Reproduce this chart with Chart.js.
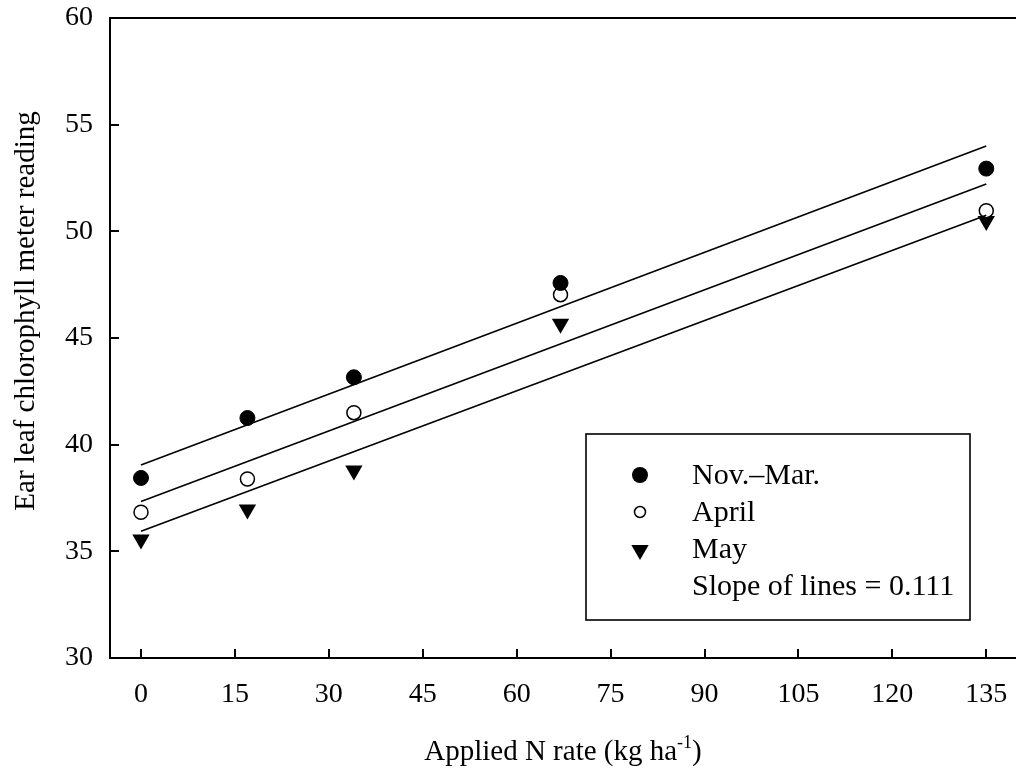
<!DOCTYPE html>
<html>
<head>
<meta charset="utf-8">
<script src="https://cdn.jsdelivr.net/npm/chart.js@4"></script>
<style>
  html, body { margin: 0; padding: 0; background: #fff; }
  canvas { display: block; }
</style>
</head>
<body>
<canvas id="c" width="1016" height="774"></canvas>
<script>
// ---- data ----
const nRates = [0, 17, 34, 67, 135];
const novMar = [38.44, 41.25, 43.16, 47.58, 52.94];
const april  = [36.83, 38.39, 41.50, 47.03, 50.97];
const may    = [35.56, 36.96, 38.79, 45.67, 50.49];

const fitX      = [0, 135];
const fitNovMar = [39.05, 54.0];
const fitApril  = [37.34, 52.22];
const fitMay    = [35.94, 50.75];

const xTicks = [0, 15, 30, 45, 60, 75, 90, 105, 120, 135];
const yTicks = [30, 35, 40, 45, 50, 55, 60];

const seriesNames = ['Nov.\u2013Mar.', 'April', 'May'];
const slopeNote = 'Slope of lines = 0.111';
const xTitle = 'Applied N rate (kg ha';
const xTitleSup = '-1';
const yTitle = 'Ear leaf chlorophyll meter reading';

const FONT = '"Liberation Serif", "Times New Roman", serif';

function pts(xs, ys) { return xs.map((x, i) => ({ x: x, y: ys[i] })); }

const lineDs = (ys) => ({
  data: pts(fitX, ys), showLine: true, pointRadius: 0, borderColor: '#000',
  borderWidth: 1.6, fill: false
});

const decor = {
  id: 'decor',
  afterDraw(chart) {
    const ctx = chart.ctx;
    const a = chart.chartArea;
    const xs = chart.scales.x, ys = chart.scales.y;
    const W = chart.width;
    ctx.save();
    ctx.strokeStyle = '#000';
    ctx.lineWidth = 2;
    ctx.lineCap = 'butt';
    // axes frame (left, bottom, top) running to the page edge
    ctx.beginPath();
    ctx.moveTo(a.left, a.top - 1); ctx.lineTo(a.left, a.bottom + 1);
    ctx.moveTo(a.left - 1, a.bottom); ctx.lineTo(W, a.bottom);
    ctx.moveTo(a.left - 1, a.top); ctx.lineTo(W, a.top);
    ctx.stroke();
    // inward tick marks
    ctx.beginPath();
    yTicks.forEach(v => {
      const p = Math.round(ys.getPixelForValue(v));
      ctx.moveTo(a.left, p); ctx.lineTo(a.left + 9, p);
    });
    xTicks.forEach(v => {
      const p = Math.round(xs.getPixelForValue(v));
      ctx.moveTo(p, a.bottom); ctx.lineTo(p, a.bottom - 9);
    });
    ctx.stroke();

    // legend box
    ctx.lineWidth = 1.6;
    ctx.strokeRect(586, 434, 384, 186);
    const mx = 640;
    ctx.fillStyle = '#000';
    ctx.beginPath(); ctx.arc(mx, 475, 8, 0, Math.PI * 2); ctx.fill();
    ctx.lineWidth = 1.5;
    ctx.beginPath(); ctx.arc(mx, 512, 5.5, 0, Math.PI * 2); ctx.stroke();
    const r = 10, cy = 550;
    ctx.beginPath();
    ctx.moveTo(mx, cy + r);
    ctx.lineTo(mx - r * Math.sqrt(3) / 2, cy - r / 2);
    ctx.lineTo(mx + r * Math.sqrt(3) / 2, cy - r / 2);
    ctx.closePath(); ctx.fill();

    ctx.font = '30px ' + FONT;
    ctx.textAlign = 'left';
    ctx.textBaseline = 'alphabetic';
    ctx.fillText(seriesNames[0], 692, 484);
    ctx.fillText(seriesNames[1], 692, 521);
    ctx.fillText(seriesNames[2], 692, 558);
    ctx.fillText(slopeNote, 692, 595);

    // x title with superscript
    ctx.font = '29px ' + FONT;
    const w1 = ctx.measureText(xTitle).width;
    ctx.font = '18px ' + FONT;
    const w2 = ctx.measureText(xTitleSup).width;
    ctx.font = '29px ' + FONT;
    const w3 = ctx.measureText(')').width;
    const total = w1 + w2 + w3;
    let sx = 563 - total / 2;
    const by = 760;
    ctx.fillText(xTitle, sx, by);
    ctx.font = '18px ' + FONT;
    ctx.fillText(xTitleSup, sx + w1, by - 12);
    ctx.font = '29px ' + FONT;
    ctx.fillText(')', sx + w1 + w2, by);

    // y title
    ctx.translate(34, 311);
    ctx.rotate(-Math.PI / 2);
    ctx.textAlign = 'center';
    ctx.fillText(yTitle, 0, 0);
    ctx.restore();
  }
};

new Chart(document.getElementById('c'), {
  type: 'scatter',
  data: {
    datasets: [
      lineDs(fitNovMar), lineDs(fitApril), lineDs(fitMay),
      { label: seriesNames[0], data: pts(nRates, novMar), pointStyle: 'circle', pointRadius: 7.5,
        backgroundColor: '#000', borderColor: '#000', borderWidth: 1 },
      { label: seriesNames[1], data: pts(nRates, april), pointStyle: 'circle', pointRadius: 7,
        backgroundColor: '#fff', borderColor: '#000', borderWidth: 1.5 },
      { label: seriesNames[2], data: pts(nRates, may), pointStyle: 'triangle', rotation: 180,
        pointRadius: 10, backgroundColor: '#000', borderColor: '#000', borderWidth: 0 }
    ]
  },
  options: {
    responsive: false,
    animation: false,
    events: [],
    layout: { padding: { top: 18, right: 0, left: 0, bottom: 0 } },
    plugins: { legend: { display: false }, tooltip: { enabled: false } },
    scales: {
      x: {
        type: 'linear', min: -4.95, max: 138.15,
        afterBuildTicks: s => { s.ticks = xTicks.map(v => ({ value: v })); },
        afterFit: s => { s.height = 116; s.paddingLeft = 0; s.paddingRight = 0; },
        grid: { display: false, drawTicks: true, tickLength: 20 },
        border: { display: false },
        ticks: { color: '#000', font: { family: FONT, size: 28 }, padding: 0, maxRotation: 0 }
      },
      y: {
        type: 'linear', min: 30, max: 60,
        afterBuildTicks: s => { s.ticks = yTicks.map(v => ({ value: v })); },
        afterFit: s => { s.width = 110; s.paddingTop = 0; s.paddingBottom = 0; },
        grid: { display: false, drawTicks: false },
        border: { display: false },
        ticks: { color: '#000', font: { family: FONT, size: 28 }, padding: 17 }
      }
    }
  },
  plugins: [decor]
});
</script>
</body>
</html>
